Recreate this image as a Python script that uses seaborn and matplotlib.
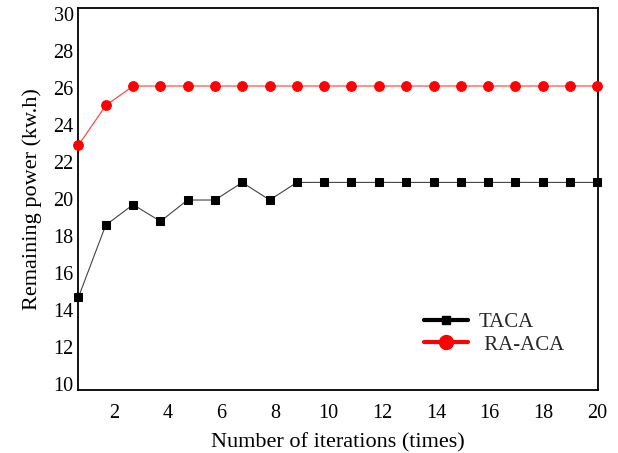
import matplotlib
matplotlib.use("Agg")
import matplotlib.pyplot as plt
from matplotlib.lines import Line2D
import seaborn as sns
import pandas as pd

iterations = [0.67, 1.69, 2.71, 3.73, 4.74, 5.76, 6.78, 7.80, 8.82, 9.83,
              10.85, 11.87, 12.89, 13.91, 14.93, 15.94, 16.96, 17.98, 19.0, 20.0]
taca = [14.7, 18.6, 19.7, 18.8, 19.95, 19.95, 20.9, 19.95, 20.9, 20.9,
        20.9, 20.9, 20.9, 20.9, 20.9, 20.9, 20.9, 20.9, 20.9, 20.9]
ra_aca = [22.9, 25.05, 26.1, 26.1, 26.1, 26.1, 26.1, 26.1, 26.1, 26.1,
          26.1, 26.1, 26.1, 26.1, 26.1, 26.1, 26.1, 26.1, 26.1, 26.1]
x_ticks = [2, 4, 6, 8, 10, 12, 14, 16, 18, 20]
y_ticks = [10, 12, 14, 16, 18, 20, 22, 24, 26, 28, 30]

sns.set_theme(style="white")
plt.rcParams['font.family'] = ['Liberation Serif', 'DejaVu Serif']

df_t = pd.DataFrame({"x": iterations, "y": taca})
df_r = pd.DataFrame({"x": iterations, "y": ra_aca})

fig = plt.figure(figsize=(6.18, 4.53), dpi=100)
ax = fig.add_axes([0.126, 0.139, 0.842, 0.843])

sns.lineplot(data=df_t, x="x", y="y", ax=ax, color="#444444", linewidth=0.8,
             marker="s", markersize=5.8, markerfacecolor="black",
             markeredgecolor="black", clip_on=False, zorder=3)
sns.lineplot(data=df_r, x="x", y="y", ax=ax, color="#ff3a3a", linewidth=0.8,
             marker="o", markersize=7, markerfacecolor="red",
             markeredgecolor="red", clip_on=False, zorder=3)

ax.set_xlim(0.65, 20.05)
ax.set_ylim(9.7, 30.3)
ax.set_xticks(x_ticks)
ax.set_yticks(y_ticks)
ax.tick_params(axis="both", length=0, labelsize=14.5, colors="black")
ax.tick_params(axis="x", pad=10)
ax.tick_params(axis="y", pad=3)
for s in ax.spines.values():
    s.set_color("black")
    s.set_linewidth(1.3)

ax.set_xlabel("Number of iterations (times)", fontsize=16, color="black", labelpad=7)
ax.set_ylabel("Remaining power (kw.h)", fontsize=16, color="black", labelpad=8)

handles = [
    Line2D([0], [0], color="black", linewidth=3, marker="s", markersize=6,
           markerfacecolor="black"),
    Line2D([0], [0], color="red", linewidth=3, marker="o", markersize=10,
           markerfacecolor="red"),
]
ax.legend(handles, ["TACA", " RA-ACA"], loc="center left",
          bbox_to_anchor=(0.63, 0.148), frameon=False, fontsize=15,
          handlelength=2.1, handletextpad=0.5, labelspacing=0.15)

fig.savefig("out.png", dpi=100)
